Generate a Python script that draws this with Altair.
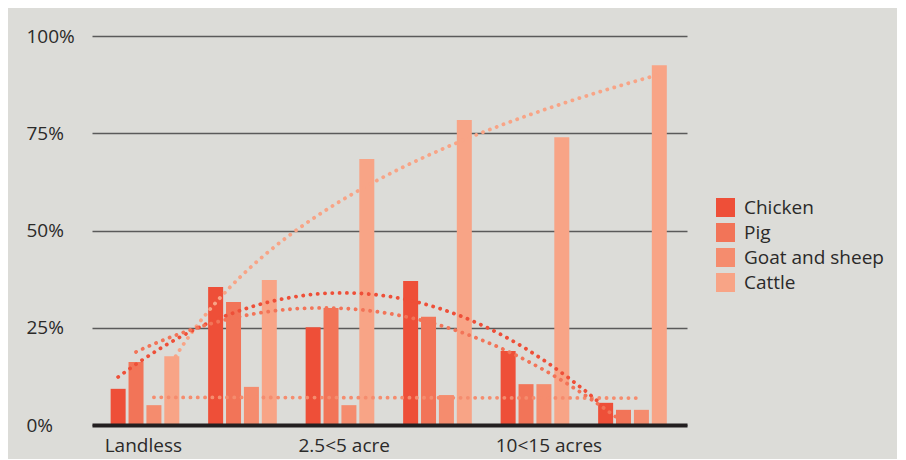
import altair as alt
import pandas as pd

# ---- data ----
series = ["Chicken", "Pig", "Goat and sheep", "Cattle"]
colors = ["#ee4f38", "#f27458", "#f58c6e", "#f8a486"]
groups = [0, 1, 2, 3, 4, 5]
tick_positions = [-0.03, 2.03, 4.13]   # where the three labels sit under the groups
tick_labels = ["Landless", "2.5<5 acre", "10<15 acres"]

chicken = [9.3, 35.5, 25.1, 37.0, 19.0, 5.7]
pig = [16.2, 31.6, 30.1, 27.8, 10.5, 3.9]
goat = [5.1, 9.8, 5.1, 7.7, 10.5, 3.9]
cattle = [17.7, 37.3, 68.4, 78.4, 74.0, 92.5]

values = {"Chicken": chicken, "Pig": pig, "Goat and sheep": goat, "Cattle": cattle}

rows = []
for si, s in enumerate(series):
    off = (si - 1.5) * 0.1835 - 0.008
    for g, v in zip(groups, values[s]):
        rows.append({"group": g, "idx": g + 1, "series": s, "value": v,
                     "offset": off, "pos": g + off})
df = pd.DataFrame(rows)

label_expr = " : ".join(
    f"abs(datum.value - {p}) < 0.001 ? '{t}'" for p, t in zip(tick_positions, tick_labels)
) + " : ''"

FONT = "Open Sans"
TXT = "#2b2a29"
FS = 19

xscale = alt.Scale(domain=[-0.5, 5.5], nice=False, zero=False)
yscale = alt.Scale(domain=[0, 100], nice=False)

base = alt.Chart(df)

bars = base.mark_bar(width=15).encode(
    x=alt.X("pos:Q", scale=xscale, title=None,
            axis=alt.Axis(values=tick_positions, labelExpr=label_expr,
                          grid=False, ticks=False, domainColor="#231f20",
                          domainWidth=4, labelFontSize=FS, labelFont=FONT,
                          labelColor=TXT, labelPadding=11, zindex=1,
                          labelFlush=False, labelOverlap=False)),
    y=alt.Y("value:Q", scale=yscale, title=None,
            axis=alt.Axis(values=[0, 25, 50, 75, 100],
                          labelExpr="datum.value + '%'",
                          grid=True, gridColor="#5a5a5a", gridWidth=1.5,
                          domain=False, ticks=False, labelAlign="left",
                          labelPadding=66, labelFontSize=FS, labelFont=FONT,
                          labelColor=TXT)),
    color=alt.Color("series:N", scale=alt.Scale(domain=series, range=colors),
                    legend=alt.Legend(title=None, orient="none", legendX=624,
                                      legendY=162, symbolType="square",
                                      symbolSize=361, symbolStrokeWidth=0,
                                      labelFontSize=FS, labelFont=FONT,
                                      labelColor=TXT, rowPadding=5,
                                      labelOffset=9, padding=0)),
)

line_style = dict(strokeDash=[0.1, 7.2], strokeCap="round", strokeWidth=3.8)
stroke_enc = alt.Stroke("series:N", scale=alt.Scale(domain=series, range=colors),
                        legend=None)


def trend(filter_expr, **reg):
    return base.transform_filter(filter_expr).transform_regression(
        "idx", "value", groupby=["series", "offset"], **reg
    ).transform_calculate(
        pos="datum.idx - 1 + datum.offset"
    ).mark_line(**line_style).encode(
        x="pos:Q", y="value:Q", stroke=stroke_enc
    )


trend_poly = trend(alt.FieldOneOfPredicate(field="series", oneOf=["Chicken", "Pig"]),
                   method="poly", order=2)
trend_lin = trend(alt.datum.series == "Goat and sheep", method="linear")
trend_log = trend(alt.datum.series == "Cattle", method="log")

chart = alt.layer(bars, trend_lin, trend_log, trend_poly).properties(
    width=595, height=389,
    padding={"left": 18, "top": 19, "right": 13, "bottom": 4},
    background="#dcdcd8",
).configure_view(stroke=None)

chart.save("out.html", embed_options={"renderer": "svg", "actions": False})
